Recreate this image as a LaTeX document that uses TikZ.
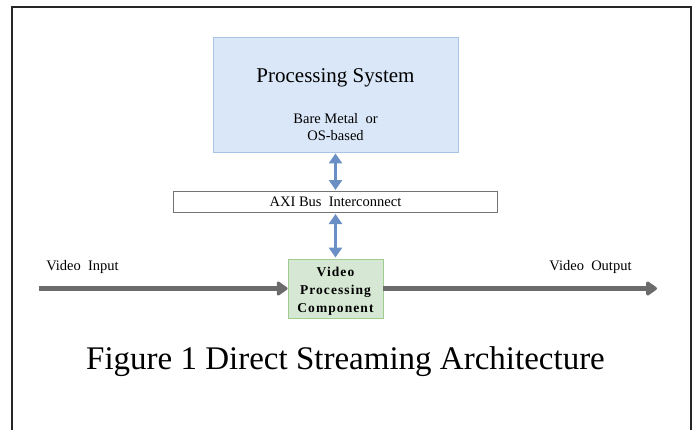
\documentclass[tikz,border=0pt]{standalone}
\usepackage{fontspec}
\setmainfont{Liberation Serif}
\usepackage{tikz}
\usetikzlibrary{arrows.meta}
\usetikzlibrary{positioning}

\definecolor{psfill}{HTML}{DAE7F8}
\definecolor{psline}{HTML}{A8C3E8}
\definecolor{vpcfill}{HTML}{D6E8D3}
\definecolor{vpcline}{HTML}{9FCC90}
\definecolor{busblue}{HTML}{6A8FC4}
\definecolor{flowgray}{HTML}{6B6B6B}

\tikzset{
    blockbox/.style={draw, rectangle, inner sep=0pt},
    busarrow/.style={busblue, line width=3.2pt, {Triangle[width=13pt,length=10pt]}-{Triangle[width=13pt,length=10pt]}, shorten <=1pt, shorten >=1pt},
    flowarrow/.style={flowgray, line width=4.5pt, -{Triangle[width=16pt,length=12pt,round]}},
    lbl/.style={inner sep=0pt, font=\fontsize{14.5}{16}\selectfont}
}

\begin{document}
\begin{tikzpicture}[x=1pt, y=-1pt]
    \useasboundingbox (0, 0) rectangle (697, 429);
    % frame
    \begin{scope}
        \clip (0, 0) rectangle (697, 429);
        \draw[line width=1.8pt, black!85] (12, 440) -- (12, 7) -- (691, 7) -- (691, 440);
    \end{scope}

    % blocks
    \node[blockbox, fill=psfill, draw=psline, line width=0.9pt, minimum width=245pt, minimum height=115pt] (ps) at (335.5, 94.5) {};
    \node[lbl, font=\fontsize{21}{24}\selectfont] (pstitle) at (335.5, 78) {Processing System};
    \node[lbl, align=center, font=\fontsize{14.5}{17}\selectfont] (pssub) at (335.5, 127.5) {Bare Metal\ \ or\\OS-based};

    \node[blockbox, fill=white, draw=black!55, line width=1pt, minimum width=324pt, minimum height=21pt, font=\fontsize{14.5}{16}\selectfont] (axi) at (335.5, 202) {AXI Bus\ \ Interconnect};

    \node[blockbox, fill=vpcfill, draw=vpcline, line width=0.9pt, minimum width=95pt, minimum height=59pt, align=center,
        font=\fontsize{13.5}{18}\bfseries\addfontfeatures{LetterSpace=8}] (vpc) at (335.5, 288.5) {\rule{0pt}{15pt}Video\\Processing\\Component};

    % bus arrows
    \draw[busarrow] (ps.south) -- (axi.north);
    \draw[busarrow] (axi.south) -- (vpc.north);

    % video stream
    \coordinate (vin) at (39, 288.5);
    \coordinate (vout) at (657, 288.5);
    \draw[flowarrow] (vin) -- (vpc.west);
    \draw[flowarrow] (vpc.east) -- (vout);
    \node[lbl] (inlbl) at (82.5, 267) {Video\ \ Input};
    \node[lbl] (outlbl) at (590.5, 267) {Video\ \ Output};

    % caption
    \node[inner sep=0pt, anchor=base, font=\fontsize{33}{38}\selectfont] (cap) at (345.5, 369) {Figure 1 Direct Streaming Architecture};
\end{tikzpicture}
\end{document}
